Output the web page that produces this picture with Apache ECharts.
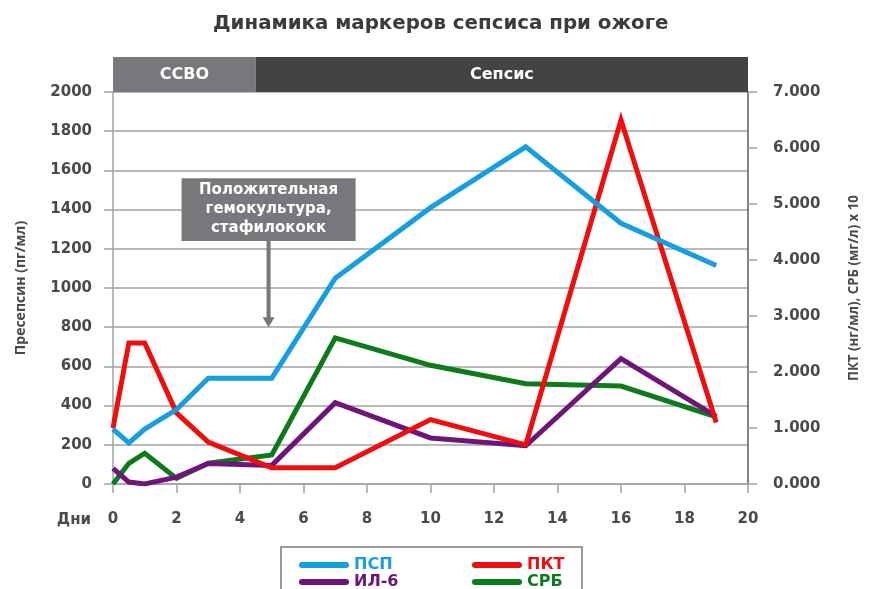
<!DOCTYPE html>
<html>
<head>
<meta charset="utf-8">
<script src="https://cdn.jsdelivr.net/npm/echarts@6/dist/echarts.min.js"></script>
<style>
  html, body { margin: 0; padding: 0; background: #fff; }
  #chart { width: 869px; height: 589px; }
</style>
</head>
<body>
<div id="chart"></div>
<script>
// дни наблюдения
const days = [0, 0.5, 1, 2, 3, 5, 7, 10, 13, 16, 19]
// пресепсин, пг/мл (левая ось)
const psp = [280, 210, 280, 380, 540, 540, 1050, 1410, 1720, 1330, 1115]
// ИЛ-6 (левая ось)
const il6 = [80, 10, 0, 35, 105, 95, 415, 235, 195, 640, 345]
// ПКТ, нг/мл (правая ось)
const pkt = [1.0, 2.52, 2.52, 1.27, 0.75, 0.29, 0.29, 1.15, 0.7, 6.5, 1.1]
// СРБ, мг/л x 10 (правая ось)
const srb = [0, 0.37, 0.55, 0.1, 0.37, 0.52, 2.61, 2.12, 1.79, 1.75, 1.2]

// фазы
const phases = [
  { name: 'ССВО', from: 0, to: 4.5, color: '#77787b' },
  { name: 'Сепсис', from: 4.5, to: 20, color: '#414345' },
]
const noteDay = 4.9
const noteText = 'Положительная\nгемокультура,\nстафилококк'

const colors = {
  psp: '#159ee0',
  pkt: '#f00d0d',
  il6: '#6f1479',
  srb: '#0d7a1c',
}
const textGray = '#4a4a4c'
const gridGray = '#a3a3a3'
const font = 'DejaVu Sans'

const pairs = (vals) => days.map((d, i) => [d, vals[i]])

const chart = echarts.init(document.getElementById('chart'))

function lineSeries(name, vals, color, axis) {
  return {
    name: name,
    type: 'line',
    yAxisIndex: axis,
    data: pairs(vals),
    showSymbol: false,
    symbol: 'none',
    lineStyle: { color: color, width: 5, join: 'miter' },
    itemStyle: { color: color },
    emphasis: { disabled: true },
  }
}

const capsule = 'path://M3,0 H47 A3,3 0 0 1 47,6 H3 A3,3 0 0 1 3,0 Z'

function legendCol(left, items) {
  return {
    orient: 'vertical',
    left: left,
    top: 552,
    height: 80,
    itemWidth: 50,
    itemHeight: 6,
    itemGap: 1,
    icon: capsule,
    textStyle: { fontFamily: font, fontWeight: 'bold', fontSize: 16 },
    data: items,
  }
}

const option = {
  animation: false,
  textStyle: { fontFamily: font },
  title: {
    text: 'Динамика маркеров сепсиса при ожоге',
    left: 208,
    top: 9,
    textStyle: { fontFamily: font, fontWeight: 'bold', fontSize: 19.8, color: '#3b3b3d' },
  },
  grid: { left: 113, right: 120, top: 92, bottom: 105 },
  legend: [
    legendCol(294, [
      { name: 'ПСП', textStyle: { color: colors.psp } },
      { name: 'ИЛ-6', textStyle: { color: colors.il6 } },
    ]),
    legendCol(467, [
      { name: 'ПКТ', textStyle: { color: colors.pkt } },
      { name: 'СРБ', textStyle: { color: colors.srb } },
    ]),
  ],
  xAxis: {
    type: 'value',
    min: 0,
    max: 20,
    interval: 2,
    axisLine: { show: true, lineStyle: { color: gridGray, width: 1.5 } },
    axisTick: { show: true, length: 9, lineStyle: { color: gridGray, width: 1.5 } },
    axisLabel: { margin: 28, color: textGray, fontWeight: 'bold', fontSize: 15 },
    splitLine: { show: false },
  },
  yAxis: [
    {
      type: 'value',
      min: 0,
      max: 2000,
      interval: 200,
      name: 'Пресепсин (пг/мл)',
      nameLocation: 'middle',
      nameGap: 85,
      nameTextStyle: { fontFamily: 'Open Sans', color: textGray, fontWeight: 'bold', fontSize: 14 },
      axisLine: { show: true, lineStyle: { color: gridGray, width: 1.5 } },
      axisTick: { show: true, length: 9, lineStyle: { color: gridGray, width: 1.5 } },
      axisLabel: {
        margin: 21,
        color: textGray,
        fontWeight: 'bold',
        fontSize: 15,
        formatter: (v) => String(v),
      },
      splitLine: { show: true, lineStyle: { color: gridGray, width: 1.5 } },
    },
    {
      type: 'value',
      min: 0,
      max: 7,
      interval: 1,
      position: 'right',
      name: 'ПКТ (нг/мл), СРБ (мг/л) x 10',
      nameLocation: 'middle',
      nameGap: 100,
      nameTextStyle: { fontFamily: 'Open Sans', color: textGray, fontWeight: 'bold', fontSize: 13.3 },
      axisLine: { show: true, lineStyle: { color: '#5a5a5c', width: 1.5 } },
      axisTick: { show: true, length: 9, lineStyle: { color: gridGray, width: 1.5 } },
      axisLabel: {
        margin: 25,
        color: textGray,
        fontWeight: 'bold',
        fontSize: 15,
        formatter: (v) => v.toFixed(3),
      },
      splitLine: { show: false },
    },
  ],
  series: [
    lineSeries('СРБ', srb, colors.srb, 1),
    lineSeries('ИЛ-6', il6, colors.il6, 0),
    lineSeries('ПКТ', pkt, colors.pkt, 1),
    lineSeries('ПСП', psp, colors.psp, 0),
  ],
}
chart.setOption(option)

// полоса фаз, подпись-стрелка, рамка легенды
const px = (d) => chart.convertToPixel({ xAxisIndex: 0 }, d)
const py = (v) => chart.convertToPixel({ yAxisIndex: 0 }, v)
const topY = py(2000)
const gfx = []
phases.forEach((p) => {
  const x0 = px(p.from)
  const x1 = px(p.to)
  gfx.push({
    type: 'rect',
    shape: { x: x0, y: topY - 35, width: x1 - x0, height: 35 },
    style: { fill: p.color },
  })
  gfx.push({
    type: 'text',
    x: (x0 + x1) / 2,
    y: topY - 17,
    style: {
      text: p.name,
      fill: '#fff',
      font: 'bold 16px "' + font + '"',
      align: 'center',
      verticalAlign: 'middle',
    },
  })
})
const nx = px(noteDay)
const boxTop = py(1560)
const boxBot = py(1240)
gfx.push({
  type: 'rect',
  shape: { x: nx - 87, y: boxTop, width: 174, height: boxBot - boxTop },
  style: { fill: '#77787b' },
})
gfx.push({
  type: 'text',
  x: nx,
  y: (boxTop + boxBot) / 2,
  style: {
    text: noteText,
    fill: '#fff',
    font: 'bold 15px "' + font + '"',
    lineHeight: 19,
    align: 'center',
    verticalAlign: 'middle',
  },
})
const arrowTip = py(800)
gfx.push({
  type: 'line',
  shape: { x1: nx, y1: boxBot, x2: nx, y2: arrowTip - 8 },
  style: { stroke: '#77787b', lineWidth: 4 },
})
gfx.push({
  type: 'polygon',
  shape: { points: [[nx - 6, arrowTip - 10], [nx + 6, arrowTip - 10], [nx, arrowTip]] },
  style: { fill: '#77787b' },
})
gfx.push({
  type: 'text',
  x: px(0) - 22,
  y: py(0) + 36,
  style: {
    text: 'Дни',
    fill: textGray,
    font: 'bold 15px "' + font + '"',
    align: 'right',
    verticalAlign: 'middle',
  },
})
gfx.push({
  type: 'rect',
  shape: { x: 281, y: 547, width: 301, height: 60 },
  style: { fill: 'none', stroke: '#7a7a7a', lineWidth: 1.5 },
})
chart.setOption({ graphic: gfx })
</script>
</body>
</html>
